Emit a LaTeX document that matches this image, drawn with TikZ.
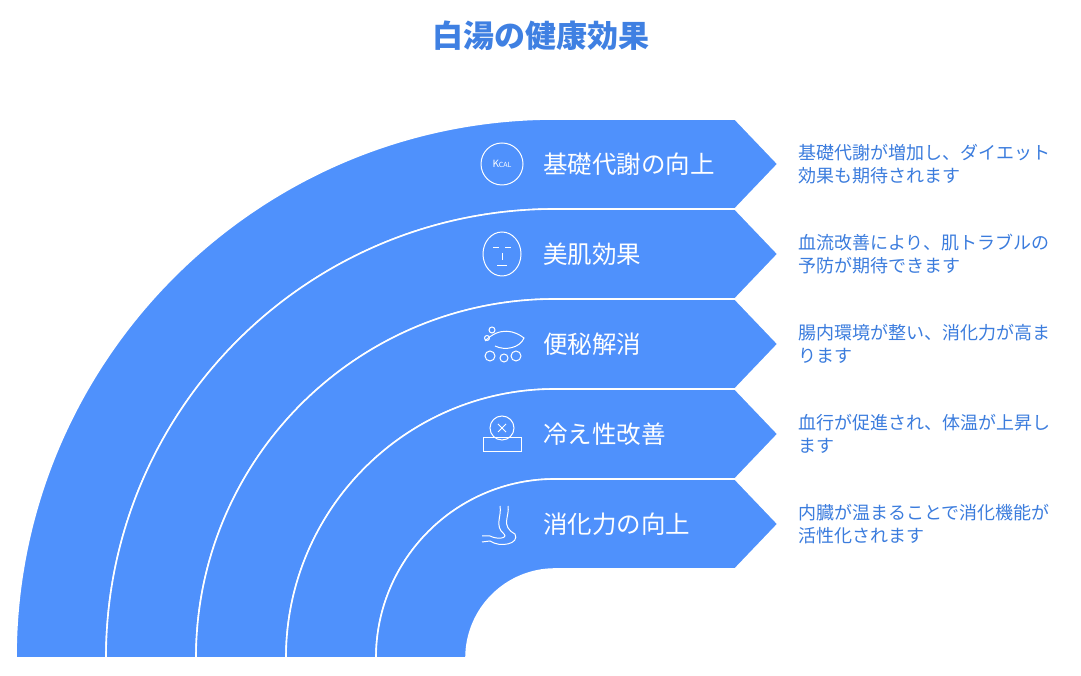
\documentclass[tikz,border=0pt]{standalone}
\usepackage{fontspec}
\newfontfamily\jp{Noto Sans CJK JP}
\definecolor{band}{HTML}{4F91FC}
\definecolor{ttl}{HTML}{3F80E2}
\definecolor{txt}{HTML}{3B7CDD}
\begin{document}
\begin{tikzpicture}[x=1pt,y=1pt,
  bandfill/.style={fill=band,draw=white,line width=1.6pt},
  lbl/.style={anchor=west,text=white,font=\jp\fontsize{24.5}{27}\selectfont,inner sep=0},
  desc/.style={anchor=west,text=txt,font=\jp\fontsize{18}{23}\selectfont,align=left,inner sep=0},
  ico/.style={draw=white,line width=1pt}]
\useasboundingbox (0,0) rectangle (1081,676);
\node[text=ttl,font=\jp\bfseries\fontsize{31}{34}\selectfont] (title) at (541,640) {白湯の健康効果};
\foreach \ro/\i in {539/1,449/2,359/3,269/4,179/5}{
  \pgfmathsetmacro\ri{\ro-90}
  \path[bandfill] (555-\ro,18) arc[start angle=180,end angle=90,radius=\ro] -- (735,18+\ro) -- (778,18+\ro-45) -- (735,18+\ri) -- (555,18+\ri) arc[start angle=90,end angle=180,radius=\ri] -- cycle;
}
\node[lbl] (l1) at (543,512) {基礎代謝の向上};
\node[lbl] (l2) at (543,422) {美肌効果};
\node[lbl] (l3) at (543,332) {便秘解消};
\node[lbl] (l4) at (543,242) {冷え性改善};
\node[lbl] (l5) at (543,152) {消化力の向上};
\node[desc] (d1) at (798,512) {基礎代謝が増加し、ダイエット\\効果も期待されます};
\node[desc] (d2) at (798,422) {血流改善により、肌トラブルの\\予防が期待できます};
\node[desc] (d3) at (798,332) {腸内環境が整い、消化力が高ま\\ります};
\node[desc] (d4) at (798,242) {血行が促進され、体温が上昇し\\ます};
\node[desc] (d5) at (798,152) {内臓が温まることで消化機能が\\活性化されます};
% icons
\node[circle,ico,minimum size=42pt,inner sep=0,text=white,font=\jp\fontsize{10}{10}\selectfont] (i1) at (502,512) {K\fontsize{7}{7}\selectfont CAL};
\draw[ico] (502,422) ellipse (19 and 22);
\draw[ico] (493,428) -- (499,428) (505,428) -- (511,428) (497,410) -- (507,410) (502,423) -- (502,416);
\draw[ico] (485,335) .. controls (500,350) and (515,345) .. (524,338) .. controls (520,328) and (505,325) .. (495,330);
\draw[ico] (490,320) circle (5) (504,318) circle (4) (516,320) circle (5) (492,346) circle (3) (487,338) circle (2.5);
\draw[ico] (502,248) circle (12);
\draw[ico] (483,224) rectangle (521,238);
\draw[ico] (498,244) -- (506,252) (498,252) -- (506,244);
\draw[ico] (508,170) .. controls (510,160) and (500,150) .. (515,142) .. controls (520,132) and (500,128) .. (490,135) -- (482,134);
\draw[ico] (500,170) .. controls (502,160) and (494,150) .. (504,142) .. controls (508,138) and (498,136) .. (490,140) -- (482,140);
\end{tikzpicture}
\end{document}
